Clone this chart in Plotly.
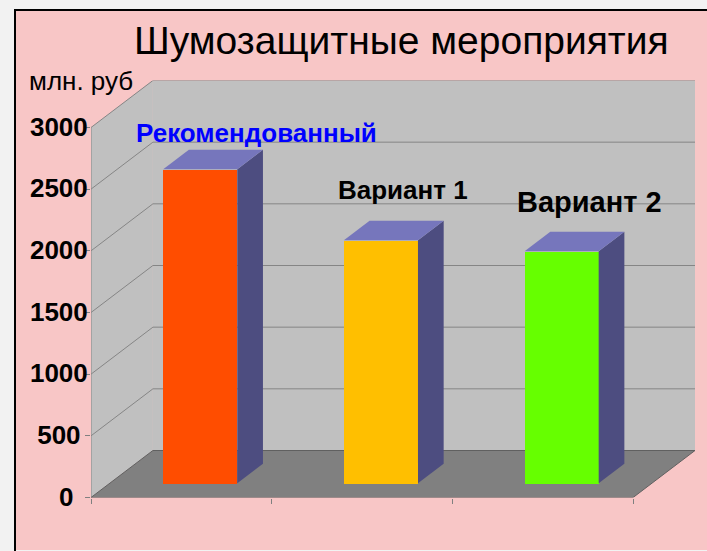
import plotly.graph_objects as go

# --- data
categories = ["Рекомендованный", "Вариант 1", "Вариант 2"]
values = [2545, 1970, 1880]
front_colors = ["#FF4D00", "#FFBF00", "#66FF00"]
y_ticks = [0, 500, 1000, 1500, 2000, 2500, 3000]
y_tick_text = ["0\u00a0\u00a0", "500\u00a0", "1000", "1500", "2000", "2500", "3000"]

W, H = 707, 551
# plot box in pixels
PX0, PX1 = 91, 695
PY0, PY1 = 497.5, 80.5
# 3-D projection: moving one full depth shifts by these amounts (data units)
PX_PER_CAT = (634 - 91) / 3
PX_PER_VAL = 370 / 3000
DX = 62 / PX_PER_CAT
DY = 47 / PX_PER_VAL
N = len(categories)
BAR_W = 0.41
Z_FRONT, Z_BACK = 0.305, 0.72
SIDE = "#4D4D80"
TOP = "#7676BC"
WALL = "#C0C0C0"
FLOOR = "#808080"
GRID = "#858585"
PINK = "#F8C6C6"


def proj(x, z, v):
    return x + z * DX, v + z * DY


def path(points):
    return "M " + " L ".join(f"{x},{y}" for x, y in points) + " Z"


fig = go.Figure()

# front faces
centers = [i + 0.5 + Z_FRONT * DX for i in range(N)]
fig.add_trace(go.Bar(
    x=centers, y=values, base=[Z_FRONT * DY] * N, width=BAR_W,
    marker=dict(color=front_colors, line=dict(width=0)),
    text=None, hovertext=categories, showlegend=False,
))

# side and top faces
for i, v in enumerate(values):
    l = i + 0.5 - BAR_W / 2
    r = i + 0.5 + BAR_W / 2
    side = [proj(r, Z_FRONT, 0), proj(r, Z_BACK, 0), proj(r, Z_BACK, v), proj(r, Z_FRONT, v), proj(r, Z_FRONT, 0)]
    top = [proj(l, Z_FRONT, v), proj(r, Z_FRONT, v), proj(r, Z_BACK, v), proj(l, Z_BACK, v), proj(l, Z_FRONT, v)]
    for pts, col in ((side, SIDE), (top, TOP)):
        fig.add_trace(go.Scatter(
            x=[p[0] for p in pts], y=[p[1] for p in pts], mode="lines",
            fill="toself", fillcolor=col, line=dict(width=0, color=col),
            hoverinfo="skip", showlegend=False,
        ))

shapes = [
    dict(type="rect", xref="paper", yref="paper", x0=15 / W, x1=1, y0=1 - 550 / H, y1=1 - 10 / H,
         fillcolor=PINK, line=dict(width=0), layer="below"),
    dict(type="line", xref="paper", yref="paper", x0=15 / W, x1=15 / W, y0=0, y1=1 - 9 / H,
         line=dict(color="black", width=2), layer="below"),
    dict(type="line", xref="paper", yref="paper", x0=14 / W, x1=1, y0=1 - 10 / H, y1=1 - 10 / H,
         line=dict(color="black", width=2), layer="below"),
]


def data_shape(points, fill=None, line=None, width=1):
    shapes.append(dict(type="path", xref="x", yref="y", path=path(points),
                       fillcolor=fill or "rgba(0,0,0,0)",
                       line=dict(color=line or "rgba(0,0,0,0)", width=width if line else 0),
                       layer="below"))


ymax = y_ticks[-1]
data_shape([proj(0, 0, 0), proj(0, 0, ymax), proj(0, 1, ymax), proj(0, 1, 0)], WALL)
data_shape([proj(0, 1, 0), proj(0, 1, ymax), proj(N, 1, ymax), proj(N, 1, 0)], WALL)
data_shape([proj(0, 0, 0), proj(N, 0, 0), proj(N, 1, 0), proj(0, 1, 0)], FLOOR)


def polyline(points, color, width=1):
    s = "M " + " L ".join(f"{x},{y}" for x, y in points)
    shapes.append(dict(type="path", xref="x", yref="y", path=s,
                       line=dict(color=color, width=width), layer="below"))


for t in y_ticks[1:]:
    polyline([proj(0, 0, t), proj(0, 1, t), proj(N, 1, t)], GRID)
polyline([proj(0, 0, 0), proj(0, 0, ymax)], GRID)
polyline([proj(0, 0, 0), proj(0, 1, 0), proj(N, 1, 0), proj(N, 0, 0), proj(0, 0, 0)], "#606060")

annotations = []


def note(text, cx, cy, size, color="black", bold=False):
    annotations.append(dict(
        xref="paper", yref="paper", x=cx / W, y=1 - cy / H, showarrow=False,
        text=f"<b>{text}</b>" if bold else text, xanchor="center", yanchor="middle",
        font=dict(family="Liberation Sans", size=size, color=color),
    ))


note("Шумозащитные мероприятия", 401.5, 40, 39)
note("млн. руб", 80.5, 81, 26)
note(categories[0], 256.5, 133, 26, "#0000FF", True)
note(categories[1], 403, 190, 26, "black", True)
note(categories[2], 589.5, 202, 29, "black", True)

fig.update_layout(
    width=W, height=H, autosize=False,
    margin=dict(l=0, r=0, t=0, b=0),
    paper_bgcolor="#F2F2F2", plot_bgcolor="rgba(0,0,0,0)",
    shapes=shapes, annotations=annotations, showlegend=False,
    bargap=0,
    xaxis=dict(
        domain=[PX0 / W, PX1 / W], range=[0, N + DX], automargin=False,
        tickmode="array", tickvals=list(range(N + 1)), ticktext=[""] * (N + 1),
        ticks="outside", ticklen=5, tickcolor="#808080", tickwidth=1,
        showgrid=False, zeroline=False, showline=False,
    ),
    yaxis=dict(
        domain=[1 - PY0 / H, 1 - PY1 / H], range=[0, ymax + DY], automargin=False,
        tickmode="array", tickvals=y_ticks, ticktext=y_tick_text,
        ticks="outside", ticklen=5, tickcolor="#808080", tickwidth=1,
        ticklabelshift=-1, ticklabelstandoff=-8,
        tickfont=dict(family="Liberation Sans", size=26, color="black", weight="bold"),
        showgrid=False, zeroline=False, showline=False,
    ),
)

fig.write_html(
    "out.html",
    config={"displayModeBar": False},
    post_script=(
        "document.body.style.margin='0';document.documentElement.style.margin='0';"
        "document.body.style.overflow='hidden';document.documentElement.style.overflow='hidden';"
    ),
)
